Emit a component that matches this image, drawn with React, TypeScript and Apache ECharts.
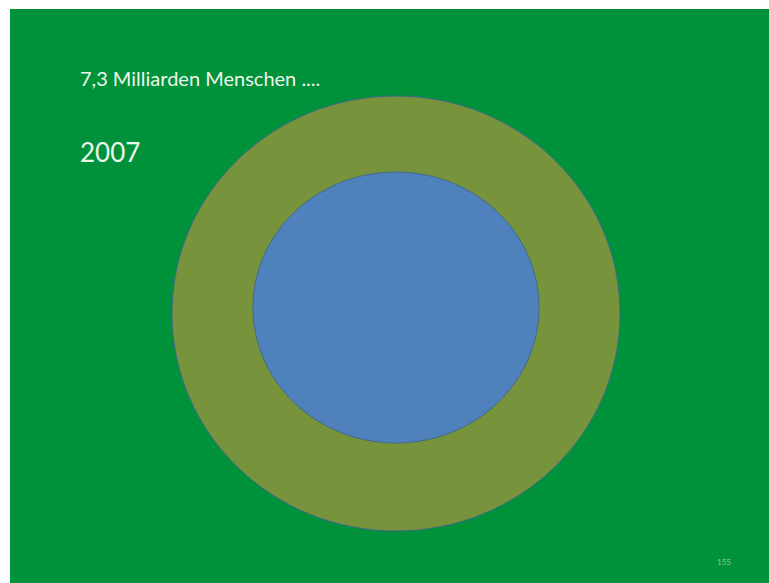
import React, { useEffect, useRef } from "react";
import * as echarts from "echarts";

const circleNames = ["Gesamt", "Innen"];
const centerX = [396, 396];
const centerY = [313.5, 307.5];
const radiusX = [224, 143];
const radiusY = [217.5, 135.5];
const fillColors = ["#77933C", "#4F81BD"];

const titleText = "7,3 Milliarden Menschen ....";
const yearText = "2007";
const pageNumber = "155";

export default function App() {
  const ref = useRef<HTMLDivElement>(null);
  useEffect(() => {
    if (!ref.current) return;
    const chart = echarts.init(ref.current, null, { renderer: "svg" });
    const data = circleNames.map((n, i) => ({
      name: n,
      value: [centerX[i], centerY[i], radiusX[i], radiusY[i]],
    }));
    chart.setOption({
      animation: false,
      backgroundColor: "#ffffff",
      grid: { left: 0, top: 0, right: 0, bottom: 0 },
      xAxis: { type: "value", min: 0, max: 769, show: false },
      yAxis: { type: "value", min: 0, max: 583, inverse: true, show: false },
      graphic: [
        {
          type: "rect",
          z: -10,
          shape: { x: 10, y: 9, width: 759, height: 574 },
          style: { fill: "#00923A" },
        },
        {
          type: "text",
          x: 80,
          y: 78,
          style: {
            text: titleText,
            fill: "#EEF6EA",
            font: "20px Lato",
            verticalAlign: "middle",
          },
        },
        {
          type: "text",
          x: 80,
          y: 152,
          style: {
            text: yearText,
            fill: "#EEF6EA",
            font: "26px Lato",
            verticalAlign: "middle",
          },
        },
        {
          type: "text",
          x: 717,
          y: 562,
          style: {
            text: pageNumber,
            fill: "#8CC89A",
            font: "8px Lato",
            verticalAlign: "middle",
          },
        },
      ],
      series: [
        {
          type: "custom",
          coordinateSystem: "cartesian2d",
          data,
          renderItem: (params: any, api: any) => {
            const c = api.coord([api.value(0), api.value(1)]);
            const s = api.size([api.value(2), api.value(3)]);
            return {
              type: "ellipse",
              shape: { cx: c[0], cy: c[1], rx: s[0], ry: s[1] },
              style: {
                fill: fillColors[params.dataIndex],
                stroke: "#3F6A8A",
                lineWidth: 1,
              },
            };
          },
        },
      ],
    });
    return () => chart.dispose();
  }, []);
  return (
    <div
      ref={ref}
      style={{ position: "absolute", left: 0, top: 0, width: 769, height: 583 }}
    />
  );
}
